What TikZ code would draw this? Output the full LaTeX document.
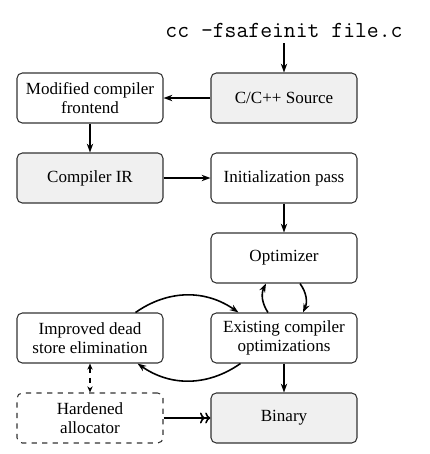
\documentclass[tikz,border=0pt]{standalone}
\usepackage{fontspec}
\setmainfont{Liberation Serif}
\usetikzlibrary{arrows.meta,calc}
\definecolor{BoxClr}{HTML}{f0f0f0}

\begin{document}
\begin{tikzpicture}[
  box/.style={draw=black!80,line width=0.6pt,rounded corners=3pt,
    minimum width=2.92cm,minimum height=1cm,align=center,
    font=\fontsize{9.7pt}{11pt}\selectfont},
  grey/.style={box,fill=BoxClr},
  link/.style={line width=0.9pt,-{Stealth[length=5pt,width=3.6pt]}},
  dbl/.style={line width=0.9pt,-{To[length=3pt]To[length=3pt]}}]
\useasboundingbox (0,0) rectangle (8.6,-9.08);

\node[anchor=base,font=\fontsize{13.1pt}{15pt}\ttfamily] (cmd) at (5.68,-0.74) {cc -fsafeinit file.c};

\node[grey] (src) at (5.68,-1.96) {C/C++ Source};
\node[box] (fe) at (1.8,-1.96) {Modified compiler\\frontend};
\node[grey] (ir) at (1.8,-3.56) {Compiler IR};
\node[box] (init) at (5.68,-3.56) {Initialization pass};
\node[box] (opt) at (5.68,-5.16) {Optimizer};
\node[box] (exist) at (5.68,-6.76) {Existing compiler\\optimizations};
\node[box] (dse) at (1.8,-6.76) {Improved dead\\store elimination};
\node[box,dashed] (alloc) at (1.8,-8.36) {Hardened\\allocator};
\node[grey] (bin) at (5.68,-8.36) {Binary};

\draw[link] (cmd) -- (src);
\draw[link] (src) -- (fe);
\draw[link] (fe) -- (ir);
\draw[link] (ir) -- (init);
\draw[link] (init) -- (opt);
\draw[link] (exist) -- (bin);

% optimizer loop
\draw[link] ([xshift=-0.32cm]exist.north) to[bend left=30] ([xshift=-0.36cm]opt.south);
\draw[link] ([xshift=0.32cm]opt.south) to[bend left=30] ([xshift=0.38cm]exist.north);

% dead store elimination
\draw[link] ([xshift=-0.56cm]dse.north east) to[bend left=35] ([xshift=0.56cm]exist.north west);
\draw[link] ([xshift=0.6cm]exist.south west) to[bend left=35] ([xshift=-0.52cm]dse.south east);

\draw[dashed,line width=0.9pt,{Stealth[length=3.5pt,width=3pt]}-{Stealth[length=3.5pt,width=3pt]}] (dse) -- (alloc);
\draw[dbl] (alloc) -- (bin);

\end{tikzpicture}
\end{document}
